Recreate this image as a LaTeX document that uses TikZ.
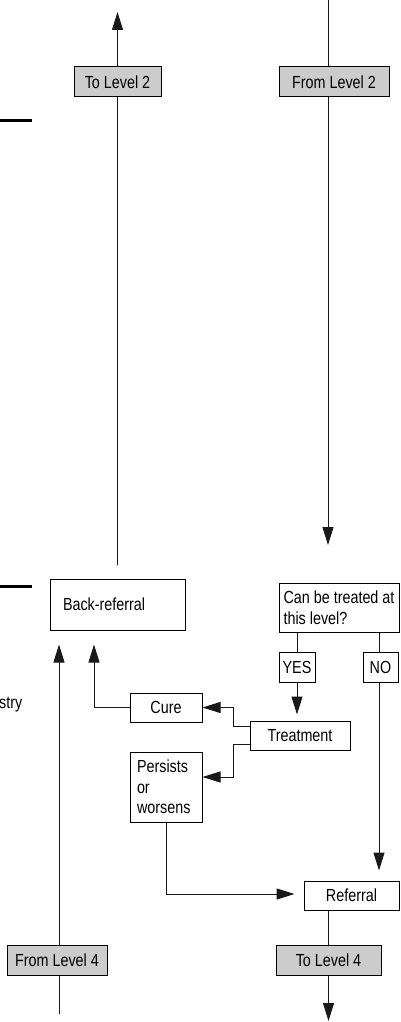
\documentclass[tikz,border=0pt]{standalone}
\usepackage{fontspec}
\setmainfont{Liberation Sans}[FakeStretch=0.82]
\usetikzlibrary{arrows.meta,backgrounds,calc}
\begin{document}
\begin{tikzpicture}[x=1pt,y=-1pt,
  font=\fontsize{17.5}{20.5}\selectfont,
  box/.style={draw=black, line width=1pt, inner sep=0pt, fill=white},
  greybox/.style={box, fill=gray!40},
  ln/.style={line width=1pt, draw=black!90},
  arr/.style={ln, -{Triangle[length=18pt,width=11pt]}},
  bar/.style={line width=3pt}]
\useasboundingbox (0,0) rectangle (401,1022);

% nodes
\node[greybox, minimum width=87pt, minimum height=30pt] (tol2) at (117.5,82) {To Level 2};
\node[greybox, minimum width=110pt, minimum height=30pt] (froml2) at (334,82) {From Level 2};
\node[box, minimum height=51pt, text width=109pt, inner xsep=13pt, align=left] (backref) at (117.5,604.5) {Back-referral};
\node[box, minimum width=120pt, minimum height=49pt, align=left] (canbe) at (339,607.5) {Can be treated at\\this level?};
\node[box, minimum width=36pt, minimum height=30pt] (yes) at (297,667) {YES};
\node[box, minimum width=35pt, minimum height=30pt] (no) at (380.5,667) {NO};
\node[box, minimum width=72pt, minimum height=29pt] (cure) at (166,707.5) {Cure};
\node[box, minimum width=100pt, minimum height=29pt] (treat) at (300,735.5) {Treatment};
\node[box, minimum height=70pt, text width=58pt, inner xsep=7pt, align=left] (persists) at (166,787) {Persists\\or\\worsens};
\node[box, minimum width=95pt, minimum height=29pt] (referral) at (351.5,895.5) {Referral};
\node[greybox, minimum width=105pt, minimum height=30pt] (tol4) at (328.5,960) {To Level 4};
\node[greybox, minimum width=100pt, minimum height=30pt] (froml4) at (57,960) {From Level 4};
\node[anchor=base west, inner sep=0pt] (stry) at (-1,708) {stry};

\coordinate (t1) at (117.5,12);
\coordinate (r2top) at (328,0);
\coordinate (r2end) at (328,545);
\coordinate (b4) at (59,1014);
\coordinate (b5) at (328.5,1021);

\begin{scope}[on background layer]
  \draw[arr] ($(backref.north)+(0,-14)$) -- (t1);
  \draw[arr] (r2top) -- (r2end);
  \draw[ln] (yes.north |- canbe.south) -- (yes.north);
  \draw[ln] ($(no.north |- canbe.south)+(-1.5,0)$) -- ($(no.north)+(-1.5,0)$);
  \draw[arr, shorten >=6pt] (yes.south) -- (yes.south |- treat.north);
  \draw[arr, shorten >=10pt] ($(no.south)+(-1.5,0)$) -- ($(no.south |- referral.north)+(-1.5,0)$);
  \draw[arr] ($(treat.west)+(0,-9.5)$) -- ++(-16,0) |- (cure.east);
  \draw[arr] ($(treat.west)+(0,8.5)$) -- ++(-16,0) |- ($(persists.east)+(0,-10)$);
  \draw[arr, shorten >=9pt] (persists.south) |- ($(referral.west)+(0,-1.5)$);
  \draw[arr] (cure.west) -| ($(backref.south)+(-23.5,14)$);
  \draw[arr] (b4) -- ($(backref.south)+(-58.5,14)$);
  \draw[ln] (tol4.north |- referral.south) -- (tol4.north);
  \draw[arr] (tol4.south) -- (b5);
\end{scope}

\draw[bar] (0,121) -- (32,121);
\draw[bar] (0,586) -- (32,586);
\end{tikzpicture}
\end{document}
